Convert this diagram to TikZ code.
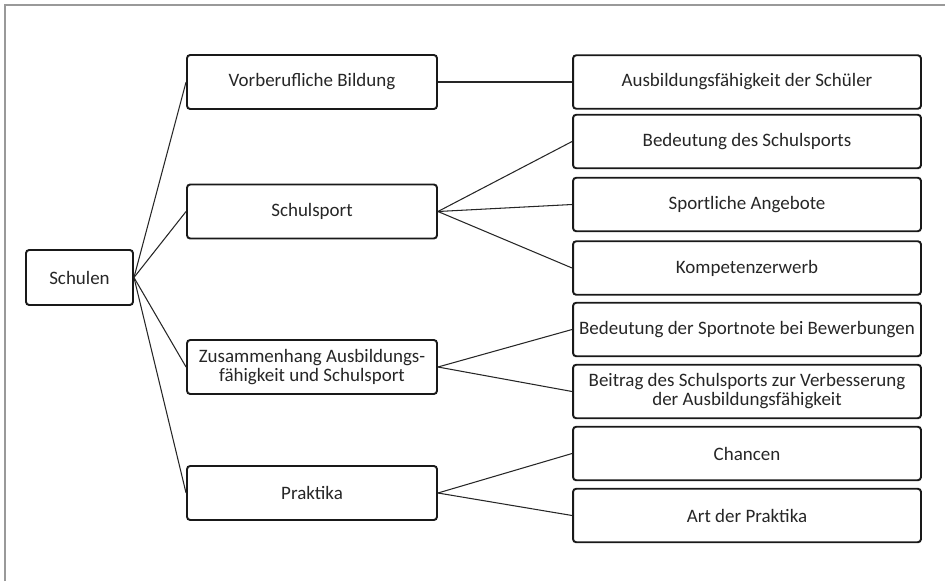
\documentclass[tikz,border=0pt]{standalone}
\usepackage{fontspec}
\setmainfont{Carlito}
\begin{document}
\begin{tikzpicture}[x=0.02cm,y=-0.02cm,
  box/.style={draw=black!90,line width=1.1pt,rounded corners=1.8pt,align=center,inner sep=1pt,text=black!85,font=\fontsize{10.8}{10.8}\selectfont},
  lbox/.style={box,minimum width=5cm,minimum height=1.08cm},
  rbox/.style={box,minimum width=6.96cm,minimum height=1.07cm},
  link/.style={draw=black!85,line width=0.6pt}]
\useasboundingbox (0,0) rectangle (945,581);
\draw[black!40,line width=1.2pt] (5,581) -- (5,5) -- (945,5);
\node[box,minimum width=2.14cm,minimum height=1.1cm] (schulen) at (79.5,277.5) {Schulen};
\node[lbox] (bildung) at (312,82) {Vorberufliche Bildung};
\node[lbox] (sport) at (312,211.5) {Schulsport};
\node[lbox] (zus) at (312,367) {Zusammenhang Ausbildungs-\\fähigkeit und Schulsport};
\node[lbox] (prak) at (312,493) {Praktika};
\node[rbox] (faeh) at (747,82) {Ausbildungsfähigkeit der Schüler};
\node[rbox] (bed) at (747,141.5) {Bedeutung des Schulsports};
\node[rbox] (ang) at (747,204.5) {Sportliche Angebote};
\node[rbox] (komp) at (747,268) {Kompetenzerwerb};
\node[rbox] (note) at (747,329.5) {Bedeutung der Sportnote bei Bewerbungen};
\node[rbox] (beitr) at (747,391.5) {Beitrag des Schulsports zur Verbesserung\\der Ausbildungsfähigkeit};
\node[rbox] (chan) at (747,453.5) {Chancen};
\node[rbox] (art) at (747,515.5) {Art der Praktika};
\foreach \a in {bildung,sport,zus,prak}
  \draw[link] (schulen.east) -- (\a.west);
\draw[link] (bildung.east) -- (faeh.west);
\foreach \a in {bed,ang,komp}
  \draw[link] (sport.east) -- (\a.west);
\foreach \a in {note,beitr}
  \draw[link] (zus.east) -- (\a.west);
\foreach \a in {chan,art}
  \draw[link] (prak.east) -- (\a.west);
\end{tikzpicture}
\end{document}
